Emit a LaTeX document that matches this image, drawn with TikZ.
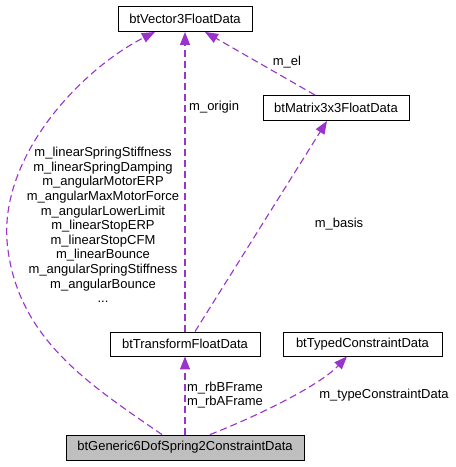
\documentclass[tikz,border=0pt]{standalone}
\usepackage{fontspec}
\setmainfont{Liberation Sans}
\usetikzlibrary{arrows.meta}
\definecolor{edgepurple}{HTML}{9A32CD}
\definecolor{boxgray}{HTML}{BFBFBF}
\begin{document}
\begin{tikzpicture}[x=1pt,y=-1pt,
  every node/.style={font=\fontsize{13}{14.6}\selectfont, inner sep=0pt},
  classbox/.style={draw=black, line width=0.9pt, fill=white, minimum height=25pt, anchor=center},
  mainbox/.style={classbox, fill=boxgray},
  rel/.style={draw=edgepurple, line width=1.1pt, dash pattern=on 7pt off 4pt,
    -{Triangle[length=13pt,width=10pt,fill=edgepurple,color=edgepurple]}},
  lbl/.style={align=center}
]
\useasboundingbox (0,0) rectangle (456,467);
\fill[white] (0,0) rectangle (456,467);

\node[classbox, minimum width=134pt] (vec) at (185,19) {btVector3FloatData};
\node[classbox, minimum width=146pt] (mat) at (336,108) {btMatrix3x3FloatData};
\node[classbox, minimum width=150pt, minimum height=24pt] (tf) at (185,344) {btTransformFloatData};
\node[classbox, minimum width=159pt, minimum height=24pt] (typ) at (362.5,344) {btTypedConstraintData};
\node[mainbox, minimum width=238pt] (gen) at (185,447.5) {btGeneric6DofSpring2ConstraintData};

% big left curve
\draw[rel] ([xshift=-23pt]gen.north) .. controls (90,385) and (20,340) .. (8,250)
  .. controls (-5,160) and (80,70) .. ([xshift=-30pt]vec.south);
% m_origin
\draw[rel] (tf.north) -- (vec.south);
% m_el
\draw[rel] ([xshift=-21pt]mat.north) -- ([xshift=20pt]vec.south);
% m_basis
\draw[rel] ([xshift=10pt]tf.north) -- ([xshift=-9pt]mat.south);
% m_rbBFrame / m_rbAFrame
\draw[rel] (gen.north) -- (tf.south);
% m_typeConstraintData
\draw[rel] ([xshift=25pt]gen.north) .. controls (260,415) and (320,385) .. ([xshift=-15.5pt]typ.south);

\node[lbl] (l1) at (103,225) {m\_linearSpringStiffness\\m\_linearSpringDamping\\m\_angularMotorERP\\m\_angularMaxMotorForce\\m\_angularLowerLimit\\m\_linearStopERP\\m\_linearStopCFM\\m\_linearBounce\\m\_angularSpringStiffness\\m\_angularBounce\\...};
\node[anchor=west] (l2) at (189,107) {m\_origin};
\node (l3) at (287,62) {m\_el};
\node (l4) at (339,224) {m\_basis};
\node[lbl] (l5) at (225,395) {m\_rbBFrame\\m\_rbAFrame};
\node (l6) at (384,395) {m\_typeConstraintData};
\end{tikzpicture}
\end{document}
